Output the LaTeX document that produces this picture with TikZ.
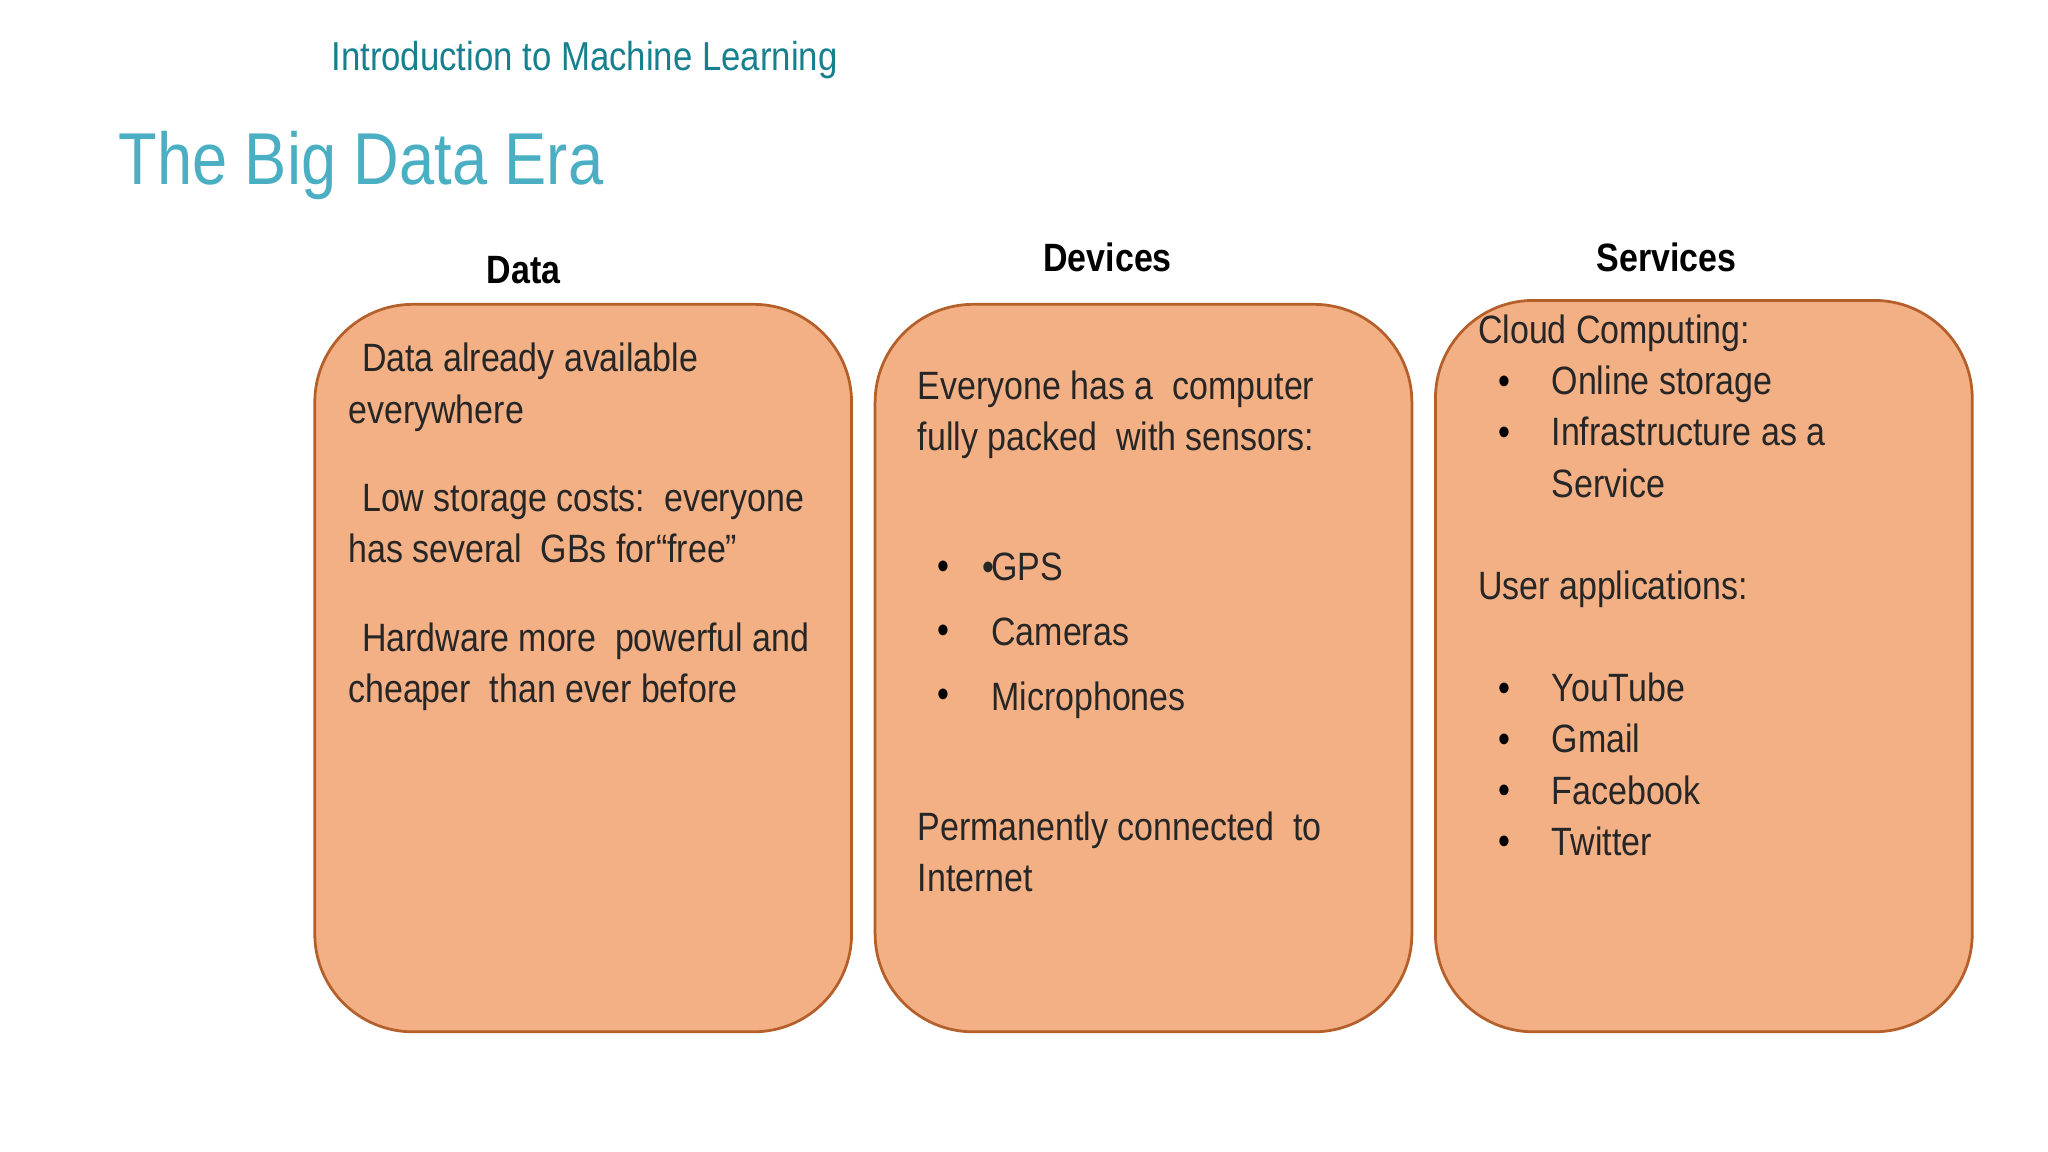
\documentclass[tikz,border=0pt]{standalone}
\usepackage{fontspec}
\setmainfont[FakeStretch=0.86]{Liberation Sans}
\definecolor{boxfill}{HTML}{F3B085}
\definecolor{boxline}{HTML}{B5602A}
\definecolor{titlec}{HTML}{4AAFC3}
\definecolor{headc}{HTML}{17808E}
\begin{document}
\begin{tikzpicture}[x=0.01cm,y=-0.01cm,
  panel/.style={draw=boxline,fill=boxfill,line width=0.6pt,rounded corners=0.75cm},
  body/.style={anchor=north west,align=left,font=\fontsize{8.6}{11.2}\selectfont,inner sep=0pt,text=black!85},
  colhead/.style={font=\fontsize{8.6}{10}\selectfont\bfseries,inner sep=0pt}]
\useasboundingbox (0,0) rectangle (1568,882);
\node[anchor=west,text=headc,font=\fontsize{8.8}{10}\selectfont,inner sep=0pt] (hdr) at (253,46) {Introduction to Machine Learning};
\node[anchor=west,text=titlec,font=\fontsize{16}{18}\selectfont,inner sep=0pt] (ttl) at (90,127) {The Big Data Era};
\node[colhead] (h1) at (401,207) {Data};
\node[colhead] (h2) at (848,197) {Devices};
\node[colhead] (h3) at (1276,197) {Services};
\draw[panel] (241,233) rectangle (652,790);
\draw[panel] (670,233) rectangle (1081,790);
\draw[panel] (1099,230) rectangle (1510,790);
\node[body] (t1) at (266,262) {\hspace{3pt}Data already available\\everywhere\\[8pt]
\hspace{3pt}Low storage costs:\ \ everyone\\has several\ \ GBs for“free”\\[8pt]
\hspace{3pt}Hardware more\ \ powerful and\\cheaper\ \ than ever before};
\node[body] (t2) at (702,283) {Everyone has a\ \ computer\\fully packed\ \ with sensors:\\[17pt]
\makebox[58pt][l]{\hspace{14pt}•}\llap{}\\[-11.2pt]
\hspace{16pt}GPS\\[3pt]\hspace{16pt}Cameras\\[3pt]\hspace{16pt}Microphones\\[17pt]
Permanently connected\ \ to\\Internet};
\foreach \y in {437,486,535}{\node[inner sep=0pt,font=\fontsize{8.6}{10}\selectfont] at (722,\y) {•};}
\node[body] (t3) at (1131,240) {Cloud Computing:\\
\hspace{16pt}Online storage\\\hspace{16pt}Infrastructure as a\\\hspace{16pt}Service\\[11pt]
User applications:\\[11pt]
\hspace{16pt}YouTube\\\hspace{16pt}Gmail\\\hspace{16pt}Facebook\\\hspace{16pt}Twitter};
\foreach \y in {295,334,530,569,608,647}{\node[inner sep=0pt,font=\fontsize{8.6}{10}\selectfont] at (1152,\y) {•};}
\end{tikzpicture}
\end{document}
